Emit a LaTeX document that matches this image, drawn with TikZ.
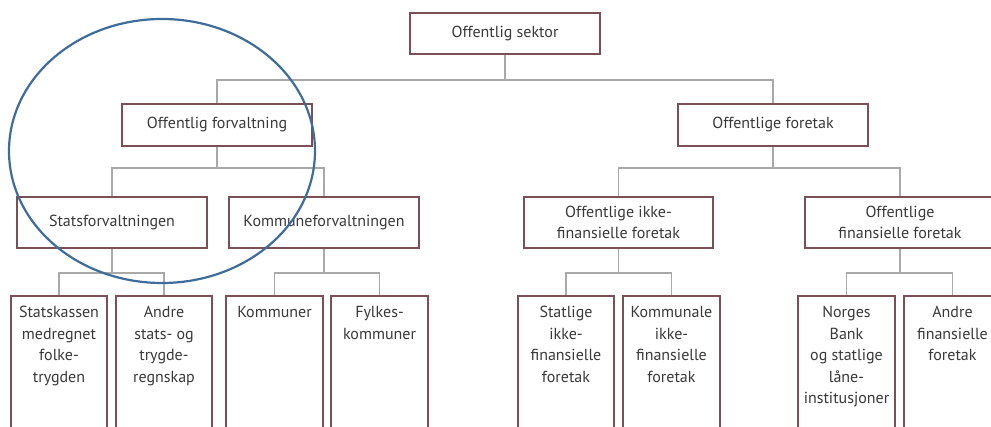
\documentclass[tikz,border=0pt]{standalone}
\usepackage{fontspec}
\setmainfont{PT Sans}
\definecolor{boxline}{HTML}{7A4F55}
\definecolor{linkgray}{HTML}{A9A9A9}
\definecolor{ringblue}{HTML}{3F6C9A}
\definecolor{txt}{HTML}{3A3A3A}
% top-aligned, centred stack of lines for the tall boxes
\newcommand{\toplines}[1]{\parbox[t]{94pt}{\centering #1}}
\begin{document}
\begin{tikzpicture}[x=1pt,y=-1pt,
  box/.style={draw=boxline, line width=1.6pt, fill=white, text=txt,
    align=center, inner sep=0pt, font=\fontsize{16}{21.5}\selectfont},
  wide/.style={box, minimum width=190pt},
  tall/.style={box, anchor=north, text height=22pt, text depth=140pt},
  link/.style={draw=linkgray, line width=1.3pt},
  ring/.style={draw=ringblue, line width=2.2pt}]
\useasboundingbox (0,0) rectangle (991,427);
\clip (0,0) rectangle (991,427);
\fill[white] (0,0) rectangle (991,427);

% junction points of the tree
\coordinate (j0) at (505,80);
\coordinate (j1) at (217,168);
\coordinate (j2) at (773,168);
\coordinate (j3) at (112,273);
\coordinate (j4) at (324,273);
\coordinate (j5) at (618.5,273);
\coordinate (j6) at (900,273);

% level 1
\node[wide, minimum height=41pt] (sektor) at (505,33.5) {Offentlig sektor};
% level 2
\node[wide, minimum height=42pt] (forv) at (217,125) {Offentlig forvaltning};
\node[wide, minimum height=42pt] (fore) at (773,125) {Offentlige foretak};
% level 3
\node[wide, minimum height=51pt] (stat) at (112,222.5) {Statsforvaltningen};
\node[wide, minimum height=51pt] (komm) at (324,222.5) {Kommuneforvaltningen};
\node[wide, minimum height=51pt, minimum width=189pt] (ikke) at (618.5,222.5) {Offentlige ikke-\\finansielle foretak};
\node[wide, minimum height=51pt] (fin) at (900,222.5) {Offentlige\\finansielle foretak};
% level 4
\node[tall, minimum width=96pt] (skasse) at (59,295) {\toplines{Statskassen\\medregnet\\folke-\\trygden}};
\node[tall, minimum width=96pt] (andre) at (164,295) {\toplines{Andre\\stats- og\\trygde-\\regnskap}};
\node[tall, minimum width=97pt] (kommuner) at (274.5,295) {\toplines{Kommuner}};
\node[tall, minimum width=97pt] (fylkes) at (379.5,295) {\toplines{Fylkes-\\kommuner}};
\node[tall, minimum width=96pt] (statlige) at (566,295) {\toplines{Statlige\\ikke-\\finansielle\\foretak}};
\node[tall, minimum width=97pt] (kommunale) at (671.5,295) {\toplines{Kommunale\\ikke-\\finansielle\\foretak}};
\node[tall, minimum width=97pt] (norges) at (846.5,295) {\toplines{Norges\\Bank\\og statlige\\låne-\\institusjoner}};
\node[tall, minimum width=97pt] (andrefin) at (952.5,295) {\toplines{Andre\\finansielle\\foretak}};

% connectors
\draw[link] (sektor.south) -- (j0);
\draw[link] (forv.north) |- (j0) -| (fore.north);
\draw[link] (forv.south) -- (j1);
\draw[link] (stat.north) |- (j1) -| (komm.north);
\draw[link] (fore.south) -- (j2);
\draw[link] (ikke.north) |- (j2) -| (fin.north);
\draw[link] (stat.south) -- (j3);
\draw[link] (skasse.north) |- (j3) -| (andre.north);
\draw[link] (komm.south) -- (j4);
\draw[link] (kommuner.north) |- (j4) -| (fylkes.north);
\draw[link] (ikke.south) -- (j5);
\draw[link] (statlige.north) |- (j5) -| (kommunale.north);
\draw[link] (fin.south) -- (j6);
\draw[link] (norges.north) |- (j6) -| (andrefin.north);

% highlight ring
\draw[ring] (162,151) ellipse [x radius=153, y radius=132];
\end{tikzpicture}
\end{document}
